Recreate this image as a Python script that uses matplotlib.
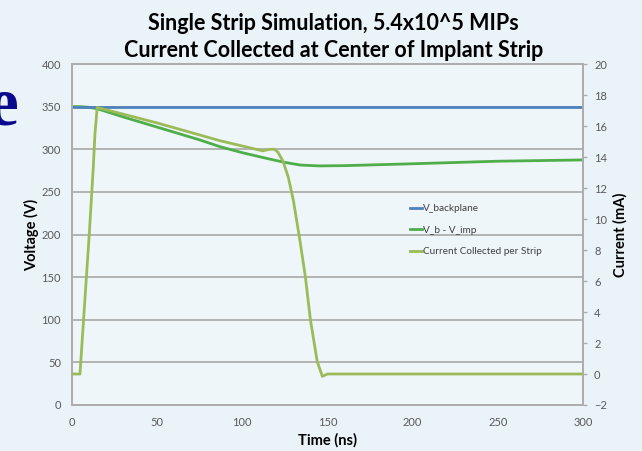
import numpy as np
import matplotlib.pyplot as plt
from matplotlib.lines import Line2D
from matplotlib.font_manager import FontProperties

# time axis (ns) and series
t_back = [0, 300]
v_back = [350, 350]

t_vdiff = [0, 5, 10, 15, 30, 50, 75, 87, 100, 115, 124, 134, 145, 160, 200, 250, 300]
v_diff = [350, 350, 349.3, 347.5, 338, 326, 311, 303, 296, 289, 285, 281.5, 280.5, 280.8, 283, 286, 287.5]

t_cur = [0, 4.7, 7.6, 10.2, 12.5, 13.5, 14.8, 50, 87, 112, 116, 119, 121, 124, 127, 130,
         134, 137, 140, 144, 147, 150, 200, 300]
current = [0, 0, 4.8, 9.1, 13.3, 15.5, 17.2, 16.2, 15.05, 14.4, 14.5, 14.5, 14.3, 13.7, 12.7, 11.2,
           8.5, 6.3, 3.5, 0.8, -0.15, 0, 0, 0]

v_ticks = np.arange(0, 401, 50)
i_ticks = np.arange(-2, 21, 2)
t_ticks = np.arange(0, 301, 50)

plt.rcParams['font.family'] = ['Lato', 'DejaVu Sans']

bg = '#EAF3F8'
grid_c = '#ADADAD'
txt_c = '#595959'

fig = plt.figure(figsize=(6.42, 4.51), dpi=100, facecolor=bg)
ax = fig.add_axes([0.1121, 0.102, 0.7959, 0.756])
ax.set_facecolor('#EFF6F9')
ax2 = ax.twinx()

ax.plot(t_vdiff, v_diff, color='#4EAE4A', linewidth=2.0, zorder=3)
ax.plot(t_back, v_back, color='#4F81BD', linewidth=2.0, zorder=4)
ax2.plot(t_cur, current, color='#9BBB59', linewidth=2.0, zorder=3)

ax.set_xlim(0, 300)
ax.set_ylim(0, 400)
ax2.set_ylim(-2, 20)
ax.set_xticks(t_ticks)
ax.set_yticks(v_ticks)
ax2.set_yticks(i_ticks)

ax.yaxis.grid(True, color=grid_c, linewidth=1.3)
ax.set_axisbelow(True)
for a in (ax, ax2):
    for s in a.spines.values():
        s.set_color(grid_c)
        s.set_linewidth(1.3)

ax.tick_params(axis='x', length=0, labelsize=8, labelcolor=txt_c, pad=9)
ax.tick_params(axis='y', length=0, labelsize=8, labelcolor=txt_c, pad=8)
ax2.tick_params(axis='y', length=3, width=1, color=grid_c, labelsize=8, labelcolor=txt_c, pad=5)

ax.set_xlabel('Time (ns)', fontsize=10.5, fontweight='bold', labelpad=3)
ax.set_ylabel('Voltage (V)', fontsize=10.5, fontweight='bold')
ax.yaxis.set_label_coords(-0.064, 0.5)
ax2.set_ylabel('Current (mA)', fontsize=10.5, fontweight='bold', labelpad=4)

fig.text(0.52, 0.918, 'Single Strip Simulation, 5.4x10^5 MIPs\nCurrent Collected at Center of Implant Strip',
         ha='center', va='center', fontsize=15.5, fontweight='bold', linespacing=1.4)

handles = [Line2D([], [], color='#4F81BD', linewidth=2.0),
           Line2D([], [], color='#4EAE4A', linewidth=2.0),
           Line2D([], [], color='#9BBB59', linewidth=2.0)]
labels = ['V_backplane', 'V_b - V_imp', 'Current Collected per Strip']
leg = fig.legend(handles, labels, loc='upper left', bbox_to_anchor=(0.632, 0.556), frameon=False,
                 fontsize=7.2, handlelength=1.2, handletextpad=0.1, labelspacing=1.25, borderaxespad=0)
for tx in leg.get_texts():
    tx.set_color('#404040')

e_font = FontProperties(family='Liberation Serif', weight='bold', size=50)
fig.text(-0.02, 0.724, 'e', fontproperties=e_font, color='#0A0A8C', ha='left', va='baseline')

fig.savefig('out.png', dpi=100, facecolor=bg)
